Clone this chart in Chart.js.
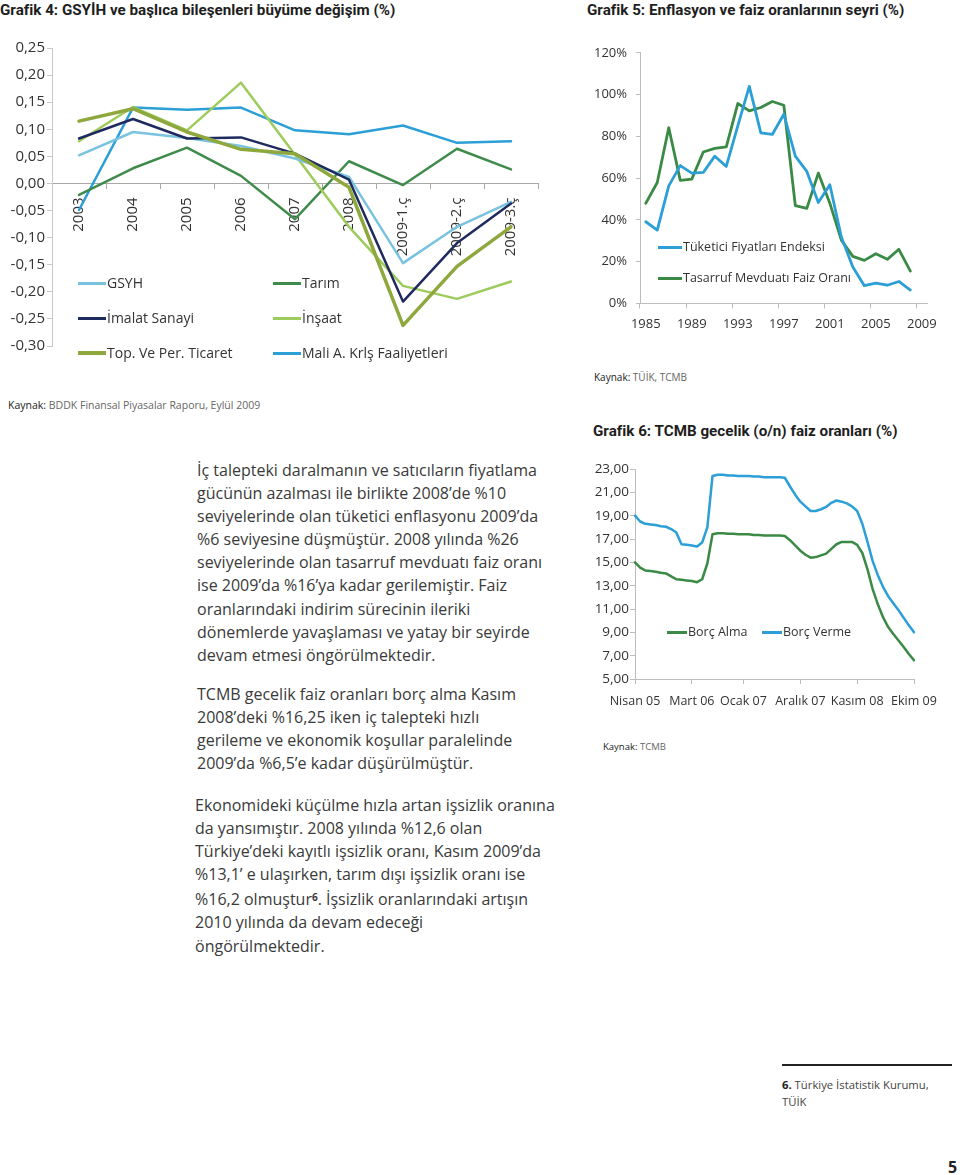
<!DOCTYPE html>
<html lang="tr">
<head>
<meta charset="utf-8">
<title>Grafik 4-6</title>
<script src="https://cdn.jsdelivr.net/npm/chart.js@4.4.1/dist/chart.umd.min.js"></script>
<style>
  html, body { margin: 0; padding: 0; background: #fff; }
  .page { position: relative; width: 960px; height: 1175px; overflow: hidden; font-family: "Open Sans", sans-serif; color: #3c3c3c; }
  .abs { position: absolute; white-space: nowrap; }
  .title { font-family: Roboto, sans-serif; font-weight: bold; font-size: 15.2px; line-height: 18px; color: #1e1e1e; }
  .src { font-size: 10.5px; line-height: 14px; color: #666; }
  .src b { font-weight: normal; color: #222; }
  .chart { position: absolute; }
  .legend { position: absolute; white-space: nowrap; font-size: 14px; line-height: 18px; color: #333; display: flex; align-items: center; }
  .legend i { display: inline-block; height: 3px; margin-right: 1px; }
  .para { position: absolute; white-space: nowrap; font-size: 16px; line-height: 23.1px; color: #3a3a3a; }
  .foot { position: absolute; white-space: nowrap; font-size: 11.3px; line-height: 17px; color: #444; }
</style>
</head>
<body>
<div class="page">
  <div class="abs title" style="left:0;top:1px">Grafik 4: GSYİH ve başlıca bileşenleri büyüme değişim (%)</div>
  <div class="abs title" style="left:587px;top:1px">Grafik 5: Enflasyon ve faiz oranlarının seyri (%)</div>

  <div class="chart" style="left:0;top:37px;width:560px;height:320px"><canvas id="growthChart"></canvas></div>
  <div class="legend" style="left:78px;top:274px"><i style="width:28px;background:#79c3e0"></i>GSYH</div>
  <div class="legend" style="left:78px;top:309px"><i style="width:28px;background:#1f2b5e"></i>İmalat Sanayi</div>
  <div class="legend" style="left:78px;top:344px"><i style="width:28px;height:4px;background:#8fa83e"></i>Top. Ve Per. Ticaret</div>
  <div class="legend" style="left:273px;top:274px"><i style="width:28px;background:#3f8b4c"></i>Tarım</div>
  <div class="legend" style="left:273px;top:309px"><i style="width:28px;background:#9dcb5c"></i>İnşaat</div>
  <div class="legend" style="left:273px;top:344px"><i style="width:28px;background:#2b9fd6"></i>Mali A. Krlş Faaliyetleri</div>
  <div class="abs src" style="left:8px;top:398px"><b>Kaynak:</b> BDDK Finansal Piyasalar Raporu, Eylül 2009</div>

  <div class="chart" style="left:585px;top:36px;width:360px;height:306px"><canvas id="inflationChart"></canvas></div>
  <div class="legend" style="left:658px;top:238px;font-size:12.5px"><i style="width:24px;background:#2b9fd6"></i>Tüketici Fiyatları Endeksi</div>
  <div class="legend" style="left:658px;top:269px;font-size:12.5px"><i style="width:24px;background:#3a8a45"></i>Tasarruf Mevduatı Faiz Oranı</div>
  <div class="abs src" style="left:594px;top:370px;font-size:10px"><b>Kaynak:</b> TÜİK, TCMB</div>

  <div class="abs title" style="left:593px;top:422px">Grafik 6: TCMB gecelik (o/n) faiz oranları (%)</div>
  <div class="chart" style="left:585px;top:455px;width:375px;height:265px"><canvas id="rateChart"></canvas></div>
  <div class="legend" style="left:667px;top:623px;font-size:12.5px"><i style="width:20px;background:#3a8a45"></i>Borç Alma</div>
  <div class="legend" style="left:762px;top:623px;font-size:12.5px"><i style="width:20px;background:#2b9fd6"></i>Borç Verme</div>
  <div class="abs src" style="left:603px;top:740px;font-size:9.5px"><b>Kaynak:</b> TCMB</div>

  <div class="para" style="left:197px;top:459px">İç talepteki daralmanın ve satıcıların fiyatlama<br>gücünün azalması ile birlikte 2008’de %10<br>seviyelerinde olan tüketici enflasyonu 2009’da<br>%6 seviyesine düşmüştür. 2008 yılında %26<br>seviyelerinde olan tasarruf mevduatı faiz oranı<br>ise 2009’da %16’ya kadar gerilemiştir. Faiz<br>oranlarındaki indirim sürecinin ileriki<br>dönemlerde yavaşlaması ve yatay bir seyirde<br>devam etmesi öngörülmektedir.</div>
  <div class="para" style="left:197px;top:683px">TCMB gecelik faiz oranları borç alma Kasım<br>2008’deki %16,25 iken iç talepteki hızlı<br>gerileme ve ekonomik koşullar paralelinde<br>2009’da %6,5’e kadar düşürülmüştür.</div>
  <div class="para" style="left:195px;top:794px">Ekonomideki küçülme hızla artan işsizlik oranına<br>da yansımıştır. 2008 yılında %12,6 olan<br>Türkiye’deki kayıtlı işsizlik oranı, Kasım 2009’da<br>%13,1’ e ulaşırken, tarım dışı işsizlik oranı ise<br>%16,2 olmuştur<b style="font-size:10px;vertical-align:4px">6</b>. İşsizlik oranlarındaki artışın<br>2010 yılında da devam edeceği<br>öngörülmektedir.</div>

  <div class="abs" style="left:782px;top:1064px;width:170px;height:2px;background:#222"></div>
  <div class="foot" style="left:782px;top:1076px"><b style="color:#222">6.</b> Türkiye İstatistik Kurumu,<br>TÜİK</div>
  <div class="abs" style="left:948px;top:1156px;font-weight:bold;font-size:16px;color:#222">5</div>
</div>

<script>
// Grafik 4: GSYİH ve bileşenleri büyüme
const growthPeriods = ["2003", "2004", "2005", "2006", "2007", "2008", "2009-1.ç", "2009-2.ç", "2009-3.ç"];
const gsyh = [0.052, 0.095, 0.084, 0.069, 0.046, 0.012, -0.147, -0.080, -0.034];
const imalatSanayi = [0.083, 0.119, 0.083, 0.085, 0.055, 0.007, -0.218, -0.110, -0.037];
const topPerTicaret = [0.115, 0.138, 0.095, 0.063, 0.055, -0.007, -0.262, -0.153, -0.080];
const tarim = [-0.021, 0.028, 0.066, 0.014, -0.066, 0.041, -0.003, 0.064, 0.026];
const insaat = [0.078, 0.141, 0.098, 0.186, 0.053, -0.080, -0.189, -0.213, -0.181];
const maliKurulus = [-0.049, 0.140, 0.136, 0.140, 0.098, 0.091, 0.107, 0.075, 0.078];

// Grafik 5: Enflasyon ve faiz
const years = ["1985", "1986", "1987", "1988", "1989", "1990", "1991", "1992", "1993", "1994", "1995", "1996",
  "1997", "1998", "1999", "2000", "2001", "2002", "2003", "2004", "2005", "2006", "2007", "2008", "2009"];
const yearTicks = ["1985", "1989", "1993", "1997", "2001", "2005", "2009"];
const tufe = [39.1, 35.1, 56.3, 66.0, 62.4, 62.7, 70.5, 65.6, 85.0, 103.9, 81.7, 80.9,
  90.6, 70.5, 63.2, 48.3, 56.8, 31.8, 17.4, 8.5, 9.7, 8.7, 10.5, 6.4, null];
const mevduatFaizi = [47.9, 57.9, 84.1, 58.9, 59.5, 72.5, 74.2, 75.0, 95.7, 92.2, 93.8, 96.7,
  94.9, 46.8, 45.5, 62.4, 48.0, 30.3, 22.5, 20.6, 23.8, 21.1, 25.9, 15.5, null];

// Grafik 6: TCMB gecelik faiz oranları (aylık)
const rateMonths = [
  "Nisan 05", "Mayıs 05", "Haziran 05", "Temmuz 05", "Ağustos 05", "Eylül 05", "Ekim 05", "Kasım 05", "Aralık 05",
  "Ocak 06", "Şubat 06", "Mart 06", "Nisan 06", "Mayıs 06", "Haziran 06", "Temmuz 06", "Ağustos 06", "Eylül 06",
  "Ekim 06", "Kasım 06", "Aralık 06", "Ocak 07", "Şubat 07", "Mart 07", "Nisan 07", "Mayıs 07", "Haziran 07",
  "Temmuz 07", "Ağustos 07", "Eylül 07", "Ekim 07", "Kasım 07", "Aralık 07", "Ocak 08", "Şubat 08", "Mart 08",
  "Nisan 08", "Mayıs 08", "Haziran 08", "Temmuz 08", "Ağustos 08", "Eylül 08", "Ekim 08", "Kasım 08", "Aralık 08",
  "Ocak 09", "Şubat 09", "Mart 09", "Nisan 09", "Mayıs 09", "Haziran 09", "Temmuz 09", "Ağustos 09", "Eylül 09",
  "Ekim 09"];
const rateTickMonths = ["Nisan 05", "Mart 06", "Ocak 07", "Aralık 07", "Kasım 08", "Ekim 09"];
const borcAlma = [15.0, 14.55, 14.3, 14.25, 14.2, 14.1, 14.05, 13.8, 13.55, 13.5, 13.45, 13.4, 13.3, 13.55, 14.9,
  17.4, 17.5, 17.5, 17.45, 17.45, 17.4, 17.4, 17.4, 17.35, 17.35, 17.3, 17.3, 17.3, 17.3, 17.25,
  16.9, 16.45, 16.0, 15.65, 15.4, 15.45, 15.6, 15.75, 16.15, 16.55, 16.75, 16.75, 16.75, 16.5,
  15.8, 14.4, 12.7, 11.4, 10.3, 9.45, 8.85, 8.3, 7.75, 7.15, 6.6];
const borcVerme = [19.0, 18.5, 18.3, 18.25, 18.2, 18.1, 18.05, 17.85, 17.55, 16.55, 16.5, 16.45, 16.35, 16.7, 18.0,
  22.4, 22.5, 22.5, 22.45, 22.45, 22.4, 22.4, 22.4, 22.35, 22.35, 22.3, 22.3, 22.3, 22.3, 22.25,
  21.5, 20.8, 20.2, 19.8, 19.4, 19.4, 19.55, 19.75, 20.1, 20.3, 20.2, 20.05, 19.8, 19.4,
  18.3, 16.75, 15.1, 13.9, 12.9, 12.1, 11.5, 10.9, 10.25, 9.6, 9.0];

Chart.defaults.font.family = '"Open Sans", sans-serif';
Chart.defaults.color = "#3c3c3c";
Chart.defaults.animation = false;

function lineSet(label, data, color, width) {
  return {
    label: label,
    data: data,
    borderColor: color,
    backgroundColor: color,
    borderWidth: width,
    pointRadius: 0,
    tension: 0,
    borderJoinStyle: "round",
    borderCapStyle: "round",
  };
}

function commaFixed(v) {
  if (Math.abs(v) < 1e-9) return "0,00";
  return v.toFixed(2).replace(".", ",");
}

const noLegend = { legend: { display: false }, tooltip: { enabled: false } };

// Grafik 4
new Chart(document.getElementById("growthChart"), {
  type: "line",
  data: {
    labels: growthPeriods,
    datasets: [
      lineSet("Top. Ve Per. Ticaret", topPerTicaret, "#8fa83e", 3.5),
      lineSet("İmalat Sanayi", imalatSanayi, "#1f2b5e", 2.5),
      lineSet("GSYH", gsyh, "#79c3e0", 2.5),
      lineSet("İnşaat", insaat, "#9dcb5c", 2.5),
      lineSet("Tarım", tarim, "#3f8b4c", 2.5),
      lineSet("Mali A. Krlş Faaliyetleri", maliKurulus, "#2b9fd6", 2.5),
    ],
  },
  options: {
    responsive: true,
    maintainAspectRatio: false,
    layout: { padding: { top: 10, right: 22, bottom: 11, left: 0 } },
    plugins: noLegend,
    scales: {
      x: {
        position: { y: 0 },
        offset: true,
        grid: { drawOnChartArea: false, tickLength: 5, offset: true, color: "#a8a8a8" },
        border: { color: "#a8a8a8" },
        ticks: { autoSkip: false, minRotation: 90, maxRotation: 90, padding: 9, font: { size: 15 }, color: "#333" },
      },
      y: {
        min: -0.3,
        max: 0.25,
        afterFit: (scale) => { scale.width = 52; },
        grid: { drawOnChartArea: false, tickLength: 5, color: "#c8c8c8" },
        border: { color: "#c8c8c8" },
        ticks: { stepSize: 0.05, padding: 2, font: { size: 15 }, color: "#333", callback: (v) => commaFixed(v) },
      },
    },
  },
});

// Grafik 5
new Chart(document.getElementById("inflationChart"), {
  type: "line",
  data: {
    labels: years,
    datasets: [
      lineSet("Tüketici Fiyatları Endeksi", tufe, "#2b9fd6", 2.8),
      lineSet("Tasarruf Mevduatı Faiz Oranı", mevduatFaizi, "#3a8a45", 2.8),
    ],
  },
  options: {
    responsive: true,
    maintainAspectRatio: false,
    layout: { padding: { top: 11, right: 13, bottom: 2, left: 0 } },
    plugins: noLegend,
    scales: {
      x: {
        offset: true,
        grid: {
          drawOnChartArea: false,
          tickLength: 5,
          offset: true,
          color: "#bdbdbd",
          tickColor: (ctx) => (yearTicks.includes(years[ctx.index]) ? "#bdbdbd" : "rgba(0,0,0,0)"),
        },
        border: { color: "#bdbdbd" },
        ticks: {
          autoSkip: false,
          maxRotation: 0,
          padding: 8,
          font: { size: 13 },
          color: "#333",
          callback: (v, i) => (yearTicks.includes(years[i]) ? years[i] : ""),
        },
      },
      y: {
        min: 0,
        max: 120,
        afterFit: (scale) => { scale.width = 55; },
        grid: { drawOnChartArea: false, tickLength: 4, color: "#bdbdbd" },
        border: { color: "#bdbdbd" },
        ticks: { stepSize: 20, padding: 9, font: { size: 13 }, color: "#333", callback: (v) => v + "%" },
      },
    },
  },
});

// Grafik 6
new Chart(document.getElementById("rateChart"), {
  type: "line",
  data: {
    labels: rateMonths,
    datasets: [
      lineSet("Borç Alma", borcAlma, "#3a8a45", 2.5),
      lineSet("Borç Verme", borcVerme, "#2b9fd6", 2.5),
    ],
  },
  options: {
    responsive: true,
    maintainAspectRatio: false,
    layout: { padding: { top: 14, right: 46, bottom: 1, left: 0 } },
    plugins: noLegend,
    scales: {
      x: {
        grid: {
          drawOnChartArea: false,
          tickLength: 5,
          color: "#bdbdbd",
          tickColor: (ctx) => (rateTickMonths.includes(rateMonths[ctx.index]) ? "#bdbdbd" : "rgba(0,0,0,0)"),
        },
        border: { color: "#bdbdbd" },
        ticks: {
          autoSkip: false,
          maxRotation: 0,
          padding: 10,
          font: { size: 12.5 },
          color: "#333",
          callback: (v, i) => (rateTickMonths.includes(rateMonths[i]) ? rateMonths[i] : ""),
        },
      },
      y: {
        min: 5,
        max: 23,
        afterFit: (scale) => { scale.width = 50; },
        grid: { drawOnChartArea: false, tickLength: 5, color: "#bdbdbd" },
        border: { color: "#bdbdbd" },
        ticks: { stepSize: 2, padding: 1, font: { size: 13.5 }, color: "#333", callback: (v) => commaFixed(v) },
      },
    },
  },
});
</script>
</body>
</html>
